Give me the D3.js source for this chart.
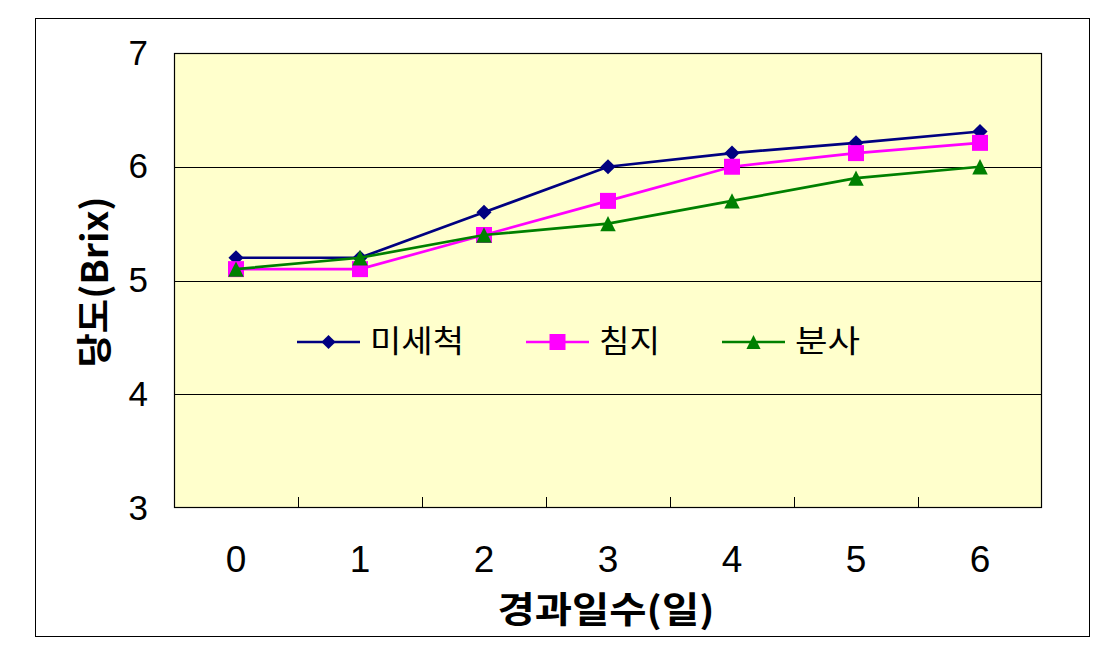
<!DOCTYPE html>
<html><head><meta charset="utf-8">
<script src="https://cdn.jsdelivr.net/npm/d3@7"></script>
<style>body{margin:0;background:#fff}svg{display:block}</style>
</head><body><svg id="c" width="1104" height="655"></svg>
<script>
const days = ["0","1","2","3","4","5","6"];
const seriesNames = ["미세척","침지","분사"];
const unwashed = [5.2,5.2,5.6,6.0,6.12,6.21,6.31];
const soaked = [5.1,5.1,5.4,5.7,6.0,6.12,6.21];
const sprayed = [5.1,5.2,5.4,5.5,5.7,5.9,6.0];
const yTicks = [3,4,5,6,7];

const colors = ["#000080","#FF00FF","#008000"];
const data = [unwashed, soaked, sprayed];

// custom marker paths (Excel-like)
const diamond = {draw(ctx,size){const r=Math.sqrt(size)/2;ctx.moveTo(0,-r);ctx.lineTo(r,0);ctx.lineTo(0,r);ctx.lineTo(-r,0);ctx.closePath();}};
const square = {draw(ctx,size){const r=Math.sqrt(size)/2;ctx.rect(-r,-r,2*r,2*r);}};
const triangle = {draw(ctx,size){const r=Math.sqrt(size)/2;ctx.moveTo(0,-r);ctx.lineTo(r,r);ctx.lineTo(-r,r);ctx.closePath();}};
const symbols = [diamond, square, triangle];

const svg = d3.select("#c");
const m = {l:174, r:1042, t:53, b:508};
svg.append("rect").attr("x",35.5).attr("y",18.5).attr("width",1054).attr("height",618)
  .attr("fill","#fff").attr("stroke","#000").attr("stroke-width",1);

const x = d3.scaleBand().domain(days).range([m.l,m.r]);
const y = d3.scaleLinear().domain([3,7]).range([m.b,m.t]);

svg.append("rect").attr("x",m.l).attr("y",m.t).attr("width",m.r-m.l).attr("height",m.b-m.t)
  .attr("fill","#FFFFCC");

// gridlines
svg.append("g").selectAll("line").data(yTicks.filter(d=>d>3&&d<7)).join("line")
  .attr("x1",m.l).attr("x2",m.r).attr("y1",d=>Math.round(y(d))+0.5).attr("y2",d=>Math.round(y(d))+0.5)
  .attr("stroke","#000").attr("stroke-width",1);

// border
svg.append("rect").attr("x",m.l+0.5).attr("y",m.t+0.5).attr("width",m.r-m.l-1).attr("height",m.b-m.t-1)
  .attr("fill","none").attr("stroke","#000").attr("stroke-width",1.2);

// x ticks (inside at band boundaries)
const bounds = days.slice(1).map(d=>x(d));
svg.append("g").selectAll("line").data(bounds).join("line")
  .attr("x1",d=>Math.round(d)+0.5).attr("x2",d=>Math.round(d)+0.5)
  .attr("y1",m.b-11).attr("y2",m.b).attr("stroke","#000");

// y axis labels
const yAxis = d3.axisLeft(y).tickValues(yTicks).tickFormat(d3.format("d")).tickSize(0).tickPadding(26);
const gy = svg.append("g").attr("transform",`translate(${m.l},0)`).call(yAxis);
gy.select(".domain").remove();
gy.selectAll("text").attr("font-family","Liberation Sans, Arial, sans-serif").attr("font-size",35).attr("fill","#000");

// x axis labels
const xAxis = d3.axisBottom(x).tickSize(0).tickPadding(0);
const gx = svg.append("g").attr("transform",`translate(0,572)`).call(xAxis);
gx.select(".domain").remove();
gx.selectAll("text").attr("font-family","Liberation Sans, Arial, sans-serif").attr("font-size",37).attr("fill","#000")
  .attr("y",0).attr("dy",0);

// axis titles
svg.append("text").attr("x",606).attr("y",623).attr("text-anchor","middle")
  .attr("font-family","Noto Sans CJK KR, sans-serif").attr("font-weight","bold").attr("font-size",36)
  .attr("textLength",217).attr("lengthAdjust","spacingAndGlyphs")
  .text("경과일수(일)");
svg.append("text").attr("transform","translate(108,282) rotate(-90)").attr("text-anchor","middle")
  .attr("font-family","Noto Sans CJK KR, sans-serif").attr("font-weight","bold").attr("font-size",36)
  .attr("textLength",171).attr("lengthAdjust","spacingAndGlyphs")
  .text("당도(Brix)");

// series: line then markers, per series
const line = d3.line().x((d,i)=>x(days[i])+x.bandwidth()/2).y(d=>y(d));
data.forEach((s,k)=>{
  svg.append("path").datum(s).attr("d",line).attr("fill","none")
    .attr("stroke",colors[k]).attr("stroke-width",2.7);
  svg.append("g").selectAll("path").data(s).join("path")
    .attr("d",d3.symbol().type(symbols[k]).size(k==0?230:k==1?256:240))
    .attr("transform",(d,i)=>`translate(${x(days[i])+x.bandwidth()/2},${y(d)})`)
    .attr("fill",colors[k]);
});

// legend
const legX = [297,526,722];
const legW = [94,61,65];
const legY = 342;
seriesNames.forEach((n,k)=>{
  const g = svg.append("g");
  g.append("line").attr("x1",legX[k]).attr("x2",legX[k]+63).attr("y1",legY).attr("y2",legY)
    .attr("stroke",colors[k]).attr("stroke-width",2.7);
  g.append("path").attr("d",d3.symbol().type(symbols[k]).size(k==0?200:k==1?256:200)())
    .attr("transform",`translate(${legX[k]+31.5},${legY})`).attr("fill",colors[k]);
  g.append("text").attr("x",legX[k]+73).attr("y",352)
    .attr("font-family","Noto Sans CJK KR, sans-serif").attr("font-size",31)
    .attr("textLength",legW[k]).attr("lengthAdjust","spacingAndGlyphs").text(n);
});
</script></body></html>
